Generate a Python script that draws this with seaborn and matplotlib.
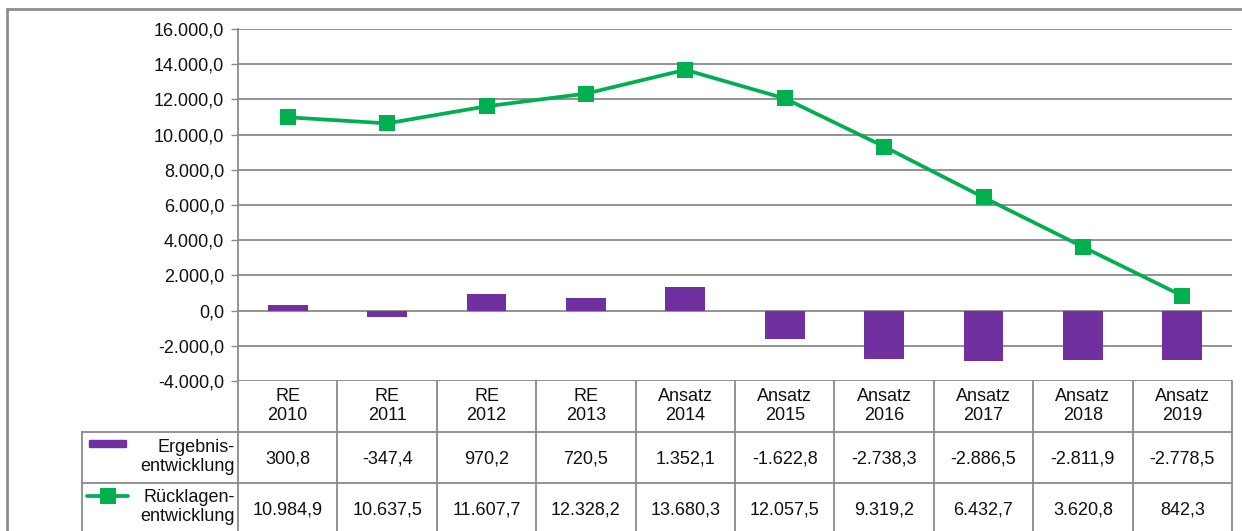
import numpy as np
import matplotlib
matplotlib.use("Agg")
import matplotlib.pyplot as plt
from matplotlib.lines import Line2D
from matplotlib.patches import Rectangle
import seaborn as sns

# ------------------------------------------------------------
# Data
# ------------------------------------------------------------
kategorien = ["RE\n2010", "RE\n2011", "RE\n2012", "RE\n2013", "Ansatz\n2014",
              "Ansatz\n2015", "Ansatz\n2016", "Ansatz\n2017", "Ansatz\n2018", "Ansatz\n2019"]
ergebnis = [300.8, -347.4, 970.2, 720.5, 1352.1, -1622.8, -2738.3, -2886.5, -2811.9, -2778.5]
ruecklagen = [10984.9, 10637.5, 11607.7, 12328.2, 13680.3, 12057.5, 9319.2, 6432.7, 3620.8, 842.3]
serien = ["Ergebnis-\nentwicklung", "Rücklagen-\nentwicklung"]
y_ticks = [-4000, -2000, 0, 2000, 4000, 6000, 8000, 10000, 12000, 14000, 16000]

PURPLE = "#7030A0"
GREEN = "#00B050"
GRID = "#8a8a8a"
TXT = "#111111"
FONT = ["Liberation Sans", "DejaVu Sans"]
FS = 13

W, H = 1242, 531


def de(v):
    s = f"{v:,.1f}"
    return s.replace(",", "X").replace(".", ",").replace("X", ".")


def fx(x):
    return x / W


def fy(y):
    return 1 - y / H


sns.set_theme(style="white")
plt.rcParams["font.family"] = FONT

fig = plt.figure(figsize=(W / 100, H / 100), dpi=100)
L, R, T, B = 238, 1232, 29, 381
ax = fig.add_axes([fx(L), fy(B), fx(R - L), (B - T) / H])

x = np.arange(len(kategorien))
sns.barplot(x=x, y=ergebnis, color=PURPLE, width=0.4, saturation=1,
            edgecolor="none", linewidth=0, ax=ax, zorder=3)
sns.lineplot(x=x, y=ruecklagen, color=GREEN, linewidth=2.7, marker="s",
             markersize=11, markeredgewidth=0, ax=ax, zorder=4)

ax.set_ylim(-4000, 16000)
ax.set_xlim(-0.5, len(kategorien) - 0.5)
ax.set_yticks(y_ticks)
ax.set_yticklabels([de(v) for v in y_ticks], fontsize=FS, color=TXT)
ax.set_xticks([])
for v in y_ticks:
    ax.axhline(v, color=GRID, lw=1.3, zorder=1)
for s in ["top", "right", "bottom"]:
    ax.spines[s].set_visible(False)
ax.spines["left"].set_color(GRID)
ax.spines["left"].set_linewidth(1.3)
ax.tick_params(axis="y", left=True, length=5, width=1, color=GRID, pad=5)


# ------------------------------------------------------------
# Data table below the axis
# ------------------------------------------------------------
def hline(y, x0, x1):
    fig.add_artist(Line2D([fx(x0), fx(x1)], [fy(y), fy(y)], color=GRID, lw=1.3))


def vline(xp, y0, y1):
    fig.add_artist(Line2D([fx(xp), fx(xp)], [fy(y0), fy(y1)], color=GRID, lw=1.3))


LEG = 82
ROW = [381, 432, 483, 540]
colw = (R - L) / len(kategorien)

hline(ROW[1], LEG, R)
hline(ROW[2], LEG, R)
vline(LEG, ROW[1], H)
for i in range(len(kategorien) + 1):
    vline(L + i * colw, ROW[0], H)

for i, kat in enumerate(kategorien):
    cx = L + (i + 0.5) * colw
    fig.text(fx(cx), fy(406), kat, ha="center", va="center",
             fontsize=FS, linespacing=1.1, color=TXT)
    fig.text(fx(cx), fy(459), de(ergebnis[i]), ha="center",
             va="center", fontsize=FS, color=TXT)
    fig.text(fx(cx), fy(510), de(ruecklagen[i]), ha="center",
             va="center", fontsize=FS, color=TXT)

# legend keys
fig.add_artist(Rectangle((fx(89), fy(447)), fx(37), 7 / H, color=PURPLE))
fig.add_artist(Line2D([fx(87), fx(128)], [fy(496), fy(496)], color=GREEN, lw=2.7))
fig.add_artist(Line2D([fx(107.5)], [fy(496)], color=GREEN, marker="s", markersize=11,
                      markeredgewidth=0, lw=0))
fig.text(fx(235), fy(457), serien[0], ha="right", va="center", fontsize=FS,
         linespacing=1.1, color=TXT)
fig.text(fx(235), fy(507), serien[1], ha="right", va="center", fontsize=FS,
         linespacing=1.1, color=TXT)

# outer frame
fig.add_artist(Line2D([fx(7), fx(7)], [fy(9), 0], color="#8c8c8c", lw=2))
fig.add_artist(Line2D([fx(7), 1], [fy(9), fy(9)], color="#8c8c8c", lw=2))

fig.savefig("out.png", dpi=100)
